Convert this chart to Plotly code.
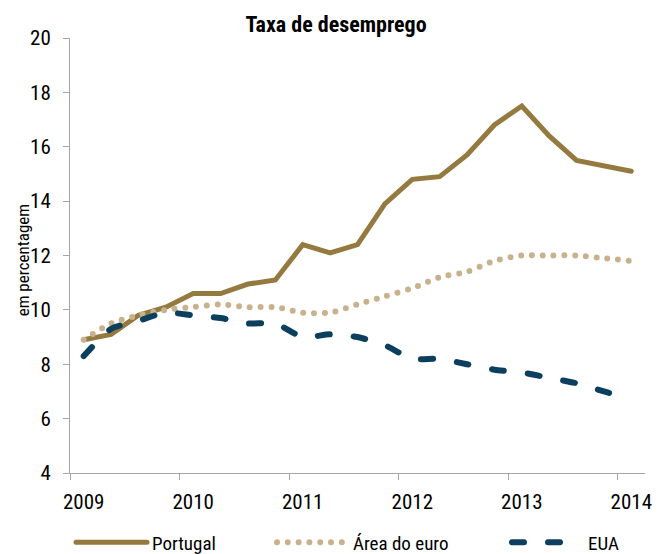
import plotly.graph_objects as go

quarters = ["2009 T1", "2009 T2", "2009 T3", "2009 T4",
            "2010 T1", "2010 T2", "2010 T3", "2010 T4",
            "2011 T1", "2011 T2", "2011 T3", "2011 T4",
            "2012 T1", "2012 T2", "2012 T3", "2012 T4",
            "2013 T1", "2013 T2", "2013 T3", "2013 T4",
            "2014 T1"]
year_labels = ["2009", "2010", "2011", "2012", "2013", "2014"]

portugal = [8.9, 9.1, 9.8, 10.1, 10.6, 10.6, 10.95, 11.1, 12.4, 12.1, 12.4,
            13.9, 14.8, 14.9, 15.7, 16.8, 17.5, 16.4, 15.5, 15.3, 15.1]
area_euro = [8.9, 9.5, 9.8, 10.0, 10.1, 10.2, 10.1, 10.1, 9.9, 9.9, 10.2,
             10.5, 10.8, 11.2, 11.4, 11.8, 12.0, 12.0, 12.0, 11.9, 11.8]
eua = [8.3, 9.3, 9.6, 9.9, 9.8, 9.7, 9.5, 9.5, 9.0, 9.1, 9.0,
       8.7, 8.2, 8.2, 8.0, 7.8, 7.7, 7.5, 7.3, 7.0, 6.7]

x_idx = list(range(len(quarters)))
year_pos = [x_idx[i] for i, q in enumerate(quarters) if q.endswith("T1")]

FONT = "Liberation Sans Narrow, Arial Narrow, Roboto Condensed, Liberation Sans, Arial, sans-serif"
AX = "#A6A6A6"

fig = go.Figure()
fig.add_trace(go.Scatter(x=x_idx, y=portugal, name="Portugal", mode="lines",
                         line=dict(color="#957A40", width=5), legend="legend",
                         showlegend=True, hovertext=quarters))
fig.add_trace(go.Scatter(x=x_idx, y=area_euro, name="Área do euro", mode="lines",
                         line=dict(color="#C8B28D", width=6, dash="0px,10.8px", shape="spline", smoothing=0.8),
                         legend="legend2", showlegend=True, hovertext=quarters))
fig.add_trace(go.Scatter(x=x_idx, y=eua, name="EUA", mode="lines",
                         line=dict(color="#0C3F5E", width=6, dash="12px,24px", shape="spline", smoothing=0.6),
                         legend="legend3", showlegend=True, hovertext=quarters))

leg_y = 1 - 542.5 / 554
leg_common = dict(orientation="h", xref="container", yref="container",
                  y=leg_y, yanchor="middle", xanchor="left", itemwidth=71,
                  font=dict(family=FONT, size=19, color="#000000"),
                  bgcolor="rgba(0,0,0,0)")

fig.update_layout(
    width=661, height=554,
    margin=dict(l=70, r=9, t=38, b=81),
    paper_bgcolor="white", plot_bgcolor="white",
    showlegend=True,
    font=dict(family=FONT, size=20, color="#000000"),
    title=dict(text="<b>Taxa de desemprego</b>", x=336/661, xref="container", xanchor="center",
               y=1 - 24/554, yref="container", yanchor="middle",
               font=dict(family=FONT, size=22, color="#000000")),
    legend=dict(x=71/661, **leg_common),
    legend2=dict(x=272/661, **leg_common),
    legend3=dict(x=507/661, **leg_common),
    xaxis=dict(range=[-0.5, 20.5], tickmode="array", tickvals=year_pos, ticktext=year_labels,
               ticks="", showline=True, linecolor=AX, linewidth=1, showgrid=False, zeroline=False,
               ticklabelstandoff=10,
               minor=dict(tickmode="linear", tick0=-0.5, dtick=4, ticks="outside", ticklen=6,
                          tickcolor=AX, tickwidth=1, showgrid=False),
               tickfont=dict(family=FONT, size=21)),
    yaxis=dict(range=[4, 20], dtick=2, tick0=4, ticks="outside", ticklen=6, tickcolor=AX,
               showline=True, linecolor=AX, linewidth=1, showgrid=False, zeroline=False,
               ticklabelstandoff=8,
               tickfont=dict(family=FONT, size=21)),
    annotations=[dict(text="em percentagem", xref="paper", yref="paper",
                      x=-48/582, y=0.488, xanchor="center", yanchor="middle",
                      textangle=-90, showarrow=False,
                      font=dict(family=FONT, size=17, color="#000000"))],
)

post = """
var s = document.createElement('style');
s.textContent = 'html,body{margin:0;padding:0;} .js-line{stroke-linecap:round !important;}';
document.head.appendChild(s);
"""
fig.write_html("out.html", post_script=post, config={"displayModeBar": False})
